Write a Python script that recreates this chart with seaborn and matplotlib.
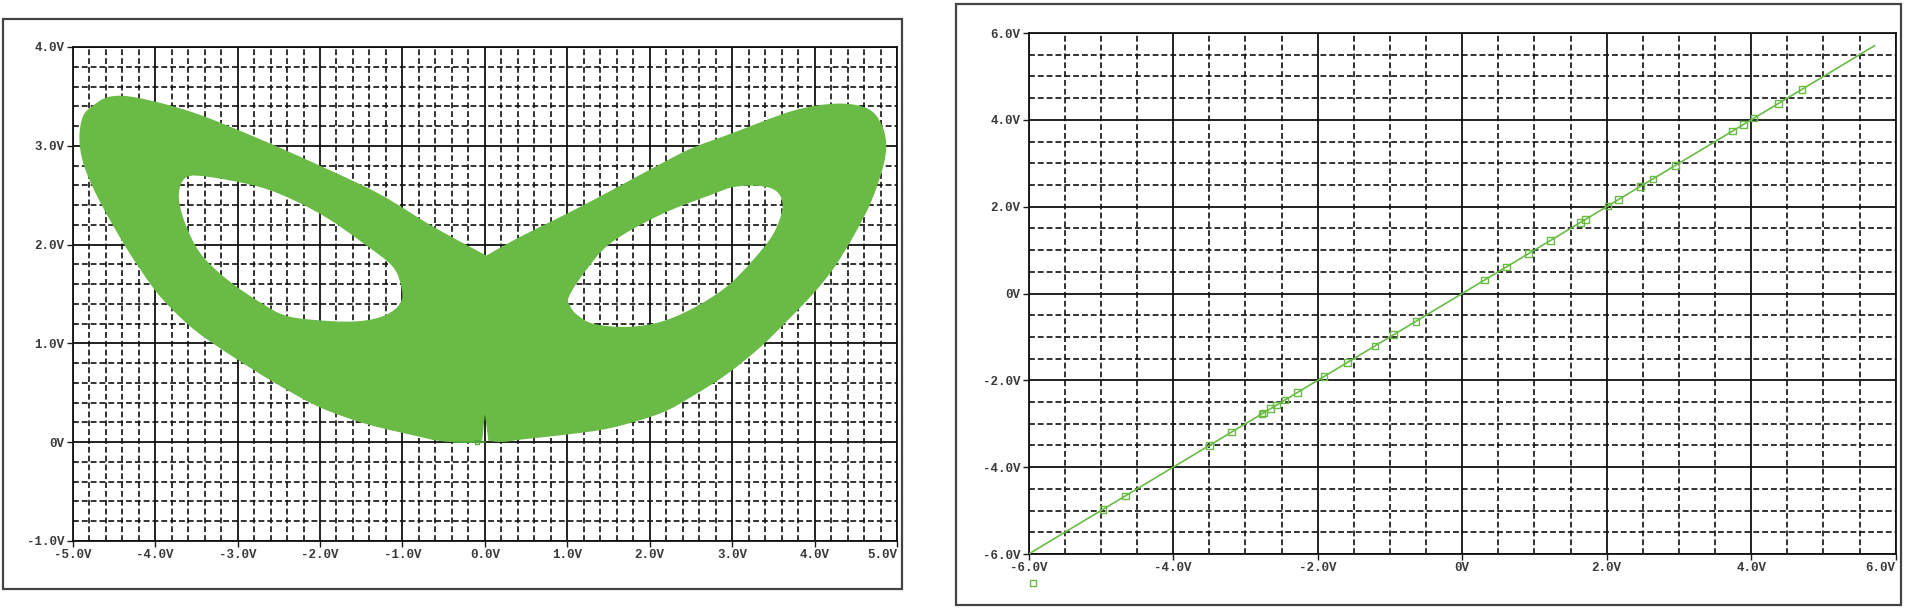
import numpy as np
import matplotlib
matplotlib.use('Agg')
import matplotlib.pyplot as plt
import seaborn as sns
from matplotlib.path import Path
from matplotlib.patches import PathPatch, Rectangle
from matplotlib.ticker import MultipleLocator, FixedLocator

# estilo
sns.set_style('white')
plt.rcParams['font.family'] = ['Liberation Mono', 'DejaVu Sans Mono']

VERDE = '#69bb46'
GRIS_TXT = '#3a3a3a'

# ---- panel izquierdo: contorno del atractor ----
outer_x = [0.02, 0.38, 0.91, 1.40, 2.00, 2.49, 3.00, 3.75, 4.28, 4.64, 4.80, 4.86, 4.82,
           4.68, 4.48, 4.23, 3.99, 3.67, 3.34, 2.94, 2.53, 2.13, 1.52, 0.95, 0.50,
           0.22, 0.05, 0.00, -0.04, -0.18, -0.55, -0.83, -1.43, -2.00, -2.53, -3.05, -3.50,
           -3.80, -4.02, -4.35, -4.67, -4.85, -4.91, -4.87, -4.75, -4.55, -4.22, -3.54, -2.73,
           -1.92, -1.27, -0.62]
outer_y = [1.88, 2.05, 2.27, 2.48, 2.75, 2.96, 3.12, 3.35, 3.42, 3.37, 3.22, 3.02, 2.78,
           2.44, 2.11, 1.77, 1.52, 1.24, 0.97, 0.70, 0.48, 0.30, 0.15, 0.08, 0.04,
           0.01, 0.02, 0.35, 0.02, 0.00, 0.02, 0.07, 0.19, 0.36, 0.60, 0.87, 1.13,
           1.36, 1.57, 1.98, 2.45, 2.79, 3.06, 3.29, 3.40, 3.49, 3.48, 3.33, 3.06,
           2.76, 2.50, 2.17]

hole_left_x = [-3.62, -3.33, -2.73, -2.30, -1.90, -1.47, -1.11, -1.00, -1.02, -1.20, -1.50,
               -1.90, -2.40, -2.73, -3.13, -3.46, -3.66, -3.72]
hole_left_y = [2.69, 2.69, 2.59, 2.45, 2.27, 2.02, 1.78, 1.55, 1.40, 1.28, 1.22,
               1.22, 1.27, 1.41, 1.64, 1.91, 2.25, 2.52]

hole_right_x = [1.01, 1.19, 1.52, 2.13, 2.74, 3.02, 3.34, 3.55, 3.62, 3.51, 3.26, 2.94,
                2.53, 2.13, 1.72, 1.32, 1.12, 1.03]
hole_right_y = [1.47, 1.71, 2.02, 2.31, 2.51, 2.59, 2.60, 2.54, 2.38, 2.11, 1.84, 1.57,
                1.35, 1.21, 1.16, 1.19, 1.28, 1.37]

base_x = [-0.38, 0.0]
base_y = [0.0, 0.0]

left_xticks = [-5, -4, -3, -2, -1, 0, 1, 2, 3, 4, 5]
left_xlabels = ['-5.0V', '-4.0V', '-3.0V', '-2.0V', '-1.0V', '0.0V', '1.0V', '2.0V', '3.0V', '4.0V', '5.0V']
left_yticks = [-1, 0, 1, 2, 3, 4]
left_ylabels = ['-1.0V', '0V', '1.0V', '2.0V', '3.0V', '4.0V']

# ---- panel derecho: recta y marcadores ----
line_x = [-6.0, 5.71]
line_y = [-6.0, 5.71]
mark_x = [-4.97, -4.66, -3.50, -3.19, -2.77, -2.75, -2.65, -2.57, -2.45, -2.28, -1.91, -1.59,
          -1.21, -0.95, -0.64, 0.31, 0.61, 0.92, 1.22, 1.64, 1.71, 2.02, 2.16, 2.47, 2.64,
          2.95, 3.74, 3.89, 4.04, 4.38, 4.70]
mark_y = [-4.97, -4.66, -3.50, -3.19, -2.77, -2.75, -2.65, -2.57, -2.45, -2.28, -1.91, -1.59,
          -1.21, -0.95, -0.64, 0.31, 0.61, 0.92, 1.22, 1.64, 1.71, 2.02, 2.16, 2.47, 2.64,
          2.95, 3.74, 3.89, 4.04, 4.38, 4.70]

right_ticks = [-6, -4, -2, 0, 2, 4, 6]
right_labels = ['-6.0V', '-4.0V', '-2.0V', '0V', '2.0V', '4.0V', '6.0V']


def anillo(xs, ys, ccw=True, esquinas=()):
    # contorno cerrado suavizado con curvas de Bezier (esquinas marcadas quedan en punta)
    pts = np.column_stack([xs, ys]).astype(float)
    area = 0.5 * np.sum(pts[:, 0] * np.roll(pts[:, 1], -1) - np.roll(pts[:, 0], -1) * pts[:, 1])
    n = len(pts)
    idx = list(range(n))
    if (area > 0) != ccw:
        idx = idx[::-1]
    pts = pts[idx]
    esq = set(idx.index(i) for i in esquinas)
    tang = np.zeros_like(pts)
    for i in range(n):
        if i not in esq:
            tang[i] = (pts[(i + 1) % n] - pts[i - 1]) / 6.0
    verts = [pts[0]]
    codes = [Path.MOVETO]
    for i in range(n):
        j = (i + 1) % n
        verts += [pts[i] + tang[i], pts[j] - tang[j], pts[j]]
        codes += [Path.CURVE4] * 3
    verts.append(pts[0])
    codes.append(Path.CLOSEPOLY)
    return np.array(verts), codes


def estilo_ejes(ax, xlim, ylim, xmin, ymin, xt, xl, yt, yl):
    ax.set_xlim(xlim)
    ax.set_ylim(ylim)
    ax.xaxis.set_major_locator(FixedLocator(xt))
    ax.yaxis.set_major_locator(FixedLocator(yt))
    ax.xaxis.set_minor_locator(MultipleLocator(xmin))
    ax.yaxis.set_minor_locator(MultipleLocator(ymin))
    ax.set_xticklabels(xl)
    ax.set_yticklabels(yl)
    ax.set_axisbelow(True)
    ax.grid(which='major', color='#111111', linewidth=1.3, linestyle='-')
    ax.grid(which='minor', color='#111111', linewidth=1.2, linestyle=(0, (3.5, 1.8)))
    ax.tick_params(which='major', direction='out', length=4.5, width=1, color='#1a1a1a',
                   labelsize=9, labelcolor=GRIS_TXT, pad=1.5, left=True, bottom=True)
    ax.tick_params(which='minor', length=0)
    for lab in ax.get_xticklabels() + ax.get_yticklabels():
        lab.set_fontweight('bold')
    ax.get_xticklabels()[-1].set_ha('right')
    for s in ax.spines.values():
        s.set_color('#111111')
        s.set_linewidth(1.3)
    ax.set_xlabel('')
    ax.set_ylabel('')


fig = plt.figure(figsize=(19.05, 6.09), dpi=100)

# marcos exteriores
fig.patches.append(Rectangle((0.0016, 0.0328), 0.4719, 0.9360, transform=fig.transFigure,
                             fill=False, edgecolor='#444444', linewidth=1.6))
fig.patches.append(Rectangle((0.5018, 0.0066), 0.4961, 0.9869, transform=fig.transFigure,
                             fill=False, edgecolor='#444444', linewidth=1.6))

ax1 = fig.add_axes([0.03816, 0.11166, 0.43271, 0.81117])
ax2 = fig.add_axes([0.54000, 0.09031, 0.45512, 0.85550])

# panel izquierdo
vo, co = anillo(outer_x, outer_y, ccw=True, esquinas=(0, 26, 27, 28))
v1, c1 = anillo(hole_left_x, hole_left_y, ccw=False)
v2, c2 = anillo(hole_right_x, hole_right_y, ccw=False)
path = Path(np.vstack([vo, v1, v2]), co + c1 + c2)
ax1.add_patch(PathPatch(path, facecolor=VERDE, edgecolor=VERDE, linewidth=1.0, zorder=3))
sns.lineplot(x=base_x, y=base_y, ax=ax1, color='#4fa83a', linewidth=1.2, zorder=4)
ax1.plot([-0.1], [0.0], marker='s', markersize=3.5, markerfacecolor='none',
         markeredgecolor='#4fa83a', linestyle='none', zorder=5)
estilo_ejes(ax1, (-5, 5), (-1, 4), 0.2, 0.2,
            left_xticks, left_xlabels, left_yticks, left_ylabels)

# panel derecho
sns.lineplot(x=line_x, y=line_y, ax=ax2, color=VERDE, linewidth=1.2, zorder=3)
sns.scatterplot(x=mark_x, y=mark_y, ax=ax2, marker='s', s=22, facecolor='none',
                edgecolor=VERDE, linewidth=1.0, zorder=4)
ax2.scatter([-5.94], [-6.67], marker='s', s=22, facecolors='none', edgecolors=VERDE,
            linewidths=1.0, clip_on=False, zorder=4)
estilo_ejes(ax2, (-6, 6), (-6, 6), 0.5, 0.5,
            right_ticks, right_labels, right_ticks, right_labels)

fig.savefig('out.png', dpi=100)
